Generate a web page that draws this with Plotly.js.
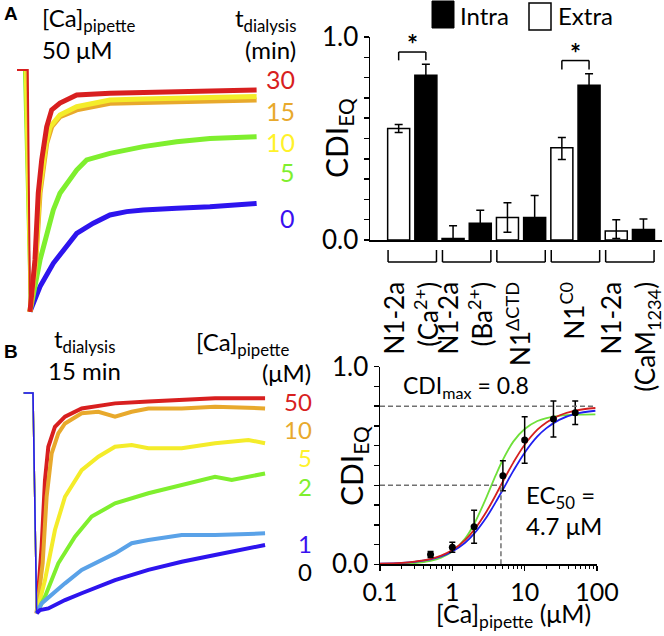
<!DOCTYPE html>
<html><head><meta charset="utf-8">
<script src="https://cdn.plot.ly/plotly-3.0.1.min.js"></script>
<style>html,body{margin:0;padding:0;background:#fff}#chart{width:664px;height:636px}</style>
</head><body><div id="chart"></div>
<script>
// ---------- Panel A traces: [Ca]pipette 50 uM, t in ms, I normalized ----------
const tA30 = [-13, 1, 3.9, 10.4, 14.7, 19.2, 25.7, 32.2, 43.0, 64.8, 108.2, 150, 195.2, 250, 299.5];
const iA30 = [0, 0, -1.0, -0.786, -0.509, -0.372, -0.235, -0.165, -0.137, -0.103, -0.096, -0.093, -0.090, -0.087, -0.083];
const tA15 = [-13, -1, 3.9, 11.7, 17.0, 25.7, 32.2, 43.0, 64.8, 108.2, 150, 195.2, 250, 299.5];
const iA15 = [0, 0, -1.0, -0.786, -0.510, -0.303, -0.235, -0.193, -0.165, -0.138, -0.134, -0.131, -0.128, -0.124];
const tA10 = [-13, -3, 3.9, 11.2, 16.0, 24.8, 30.0, 43.0, 64.8, 108.2, 150, 195.2, 250, 299.5];
const iA10 = [0, 0, -1.0, -0.786, -0.510, -0.303, -0.235, -0.186, -0.152, -0.124, -0.120, -0.117, -0.113, -0.110];
const tA5 = [-13, -4, 3.9, 8.2, 17.0, 34.3, 43.0, 64.8, 77.8, 108.2, 151.7, 195.2, 238.6, 299.5];
const iA5 = [0, 0, -1.0, -0.924, -0.786, -0.579, -0.510, -0.414, -0.372, -0.345, -0.317, -0.297, -0.283, -0.276];
const tA0 = [-13, -1, 3.9, 17.0, 34.3, 47.3, 64.8, 86.5, 108.2, 130, 151.7, 195.2, 238.6, 299.5];
const iA0 = [0, 0, -1.0, -0.896, -0.800, -0.745, -0.676, -0.634, -0.600, -0.586, -0.579, -0.572, -0.566, -0.552];

// ---------- Panel B traces: tdialysis 15 min ----------
const tB50 = [-12, 0, 4.7, 11.1, 15.4, 19.7, 28.2, 41.1, 62.5, 105.3, 148.1, 190.9, 233.7, 297.9];
const iB50 = [0, 0, -1.0, -0.698, -0.395, -0.244, -0.153, -0.107, -0.070, -0.047, -0.039, -0.032, -0.024, -0.024];
const tB10 = [-12, 0, 4.7, 12.4, 17.5, 24.0, 32.5, 41.1, 62.5, 83.9, 105.3, 126.7, 148.1, 190.9, 233.7, 297.9];
const iB10 = [0, 0, -1.0, -0.773, -0.471, -0.274, -0.183, -0.138, -0.092, -0.085, -0.107, -0.085, -0.070, -0.070, -0.062, -0.070];
const tB5 = [-12, 0, 4.7, 15.4, 28.2, 41.1, 62.5, 83.9, 105.3, 126.7, 148.1, 190.9, 233.7, 276.5, 297.9];
const iB5 = [0, 0, -1.0, -0.849, -0.622, -0.471, -0.350, -0.289, -0.244, -0.236, -0.251, -0.251, -0.228, -0.213, -0.228];
const tB2 = [-12, 0, 4.7, 15.4, 32.5, 53.9, 75.3, 105.3, 148.1, 190.9, 212.3, 233.7, 255.1, 276.5, 297.9];
const iB2 = [0, 0, -1.0, -0.925, -0.773, -0.652, -0.561, -0.501, -0.455, -0.418, -0.395, -0.380, -0.395, -0.380, -0.365];
const tB1 = [-12, 0, 4.7, 11.1, 41.1, 62.5, 105.3, 126.7, 148.1, 190.9, 233.7, 276.5, 297.9];
const iB1 = [0, 0, -1.0, -0.955, -0.864, -0.803, -0.728, -0.682, -0.667, -0.645, -0.645, -0.637, -0.637];
const tB0 = [-12, 0, 4.7, 9.0, 19.7, 41.1, 62.5, 105.3, 148.1, 190.9, 233.7, 276.5, 297.9];
const iB0 = [0, 0, -1.0, -0.985, -0.978, -0.940, -0.909, -0.849, -0.803, -0.766, -0.735, -0.705, -0.690];

// ---------- Bar chart ----------
const barCategories = ['N1-2a<br>(Ca<sup>2+</sup>)', 'N1-2a<br>(Ba<sup>2+</sup>)', 'N1<sup>ΔCTD</sup>', 'N1<sup>C0</sup>', 'N1-2a<br>(CaM<sub>1234</sub>)'];
const extraVals  = [0.549, 0.008, 0.111, 0.454, 0.044];
const extraErrUp = [0.020, 0.062, 0.073, 0.051, 0.056];
const extraErrDn = [0.020, 0.008, 0.073, 0.057, 0.036];
const intraVals  = [0.811, 0.082, 0.111, 0.762, 0.052];
const intraErr   = [0.055, 0.064, 0.108, 0.057, 0.051];
const yTickVals = [0, 0.1, 0.2, 0.3, 0.4, 0.5, 0.6, 0.7, 0.8, 0.9, 1.0];
const yTickText = ['0.0', '', '', '', '', '', '', '', '', '', '1.0'];

// ---------- Dose response ----------
const caPipette = [0.5, 1, 2, 5, 10, 25, 50];
const cdiEq     = [0.050, 0.086, 0.190, 0.448, 0.629, 0.735, 0.767];
const cdiErr    = [0.015, 0.025, 0.083, 0.076, 0.118, 0.091, 0.059];
const caFit = [0.1, 0.2, 0.3, 0.5, 0.7, 1, 1.5, 2, 3, 4, 5, 7, 10, 15, 20, 30, 50, 95];
const fitRed   = [0.003, 0.007, 0.013, 0.027, 0.044, 0.072, 0.122, 0.174, 0.270, 0.352, 0.419, 0.516, 0.605, 0.681, 0.718, 0.753, 0.778, 0.791];
const fitBlue  = [0.003, 0.007, 0.012, 0.025, 0.040, 0.065, 0.109, 0.155, 0.241, 0.316, 0.378, 0.474, 0.565, 0.647, 0.689, 0.731, 0.761, 0.777];
const fitGreen = [0.001, 0.003, 0.006, 0.017, 0.033, 0.064, 0.130, 0.204, 0.344, 0.452, 0.529, 0.622, 0.685, 0.725, 0.740, 0.751, 0.757, 0.759];
const cdiMax = 0.8, ec50 = 4.7;
const xLogTicks = [0.1, 1, 10, 100];
const xLogTickText = ['0.1', '1', '10', '100'];
const xLogMinor = [0.2,0.3,0.4,0.5,0.6,0.7,0.8,0.9,2,3,4,5,6,7,8,9,20,30,40,50,60,70,80,90];

// ---------- colours ----------
const C = {red:'#D81F1F', orange:'#E8A92C', yellow:'#F4EC2A', green:'#7FEF2E', blue:'#2D14EE', lblue:'#5AA2E8'};
const FONT = 'Lato, "Open Sans", "DejaVu Sans", sans-serif';

const W = 664, H = 636;
const px = x => x / W, py = y => 1 - y / H;

const data = [];
function addTrace(t, I, color, xa, ya, wThin, wThick) {
  let k = 0; I.forEach((v, j) => { if (v < I[k]) k = j; });
  data.push({x: t.slice(0, k + 1), y: I.slice(0, k + 1), mode: 'lines', line: {color, width: wThin}, xaxis: xa, yaxis: ya, hoverinfo: 'skip', showlegend: false});
  data.push({x: t.slice(k), y: I.slice(k), mode: 'lines', line: {color, width: wThick}, xaxis: xa, yaxis: ya, hoverinfo: 'skip', showlegend: false});
}
addTrace(tA0, iA0, C.blue, 'x', 'y', 2, 5);
addTrace(tA5, iA5, C.green, 'x', 'y', 2, 5);
addTrace(tA15, iA15, C.orange, 'x', 'y', 2, 5);
addTrace(tA10, iA10, C.yellow, 'x', 'y', 2, 5);
addTrace(tA30, iA30, C.red, 'x', 'y', 2, 5);

addTrace(tB50, iB50, C.red, 'x3', 'y3', 1.5, 4);
addTrace(tB10, iB10, C.orange, 'x3', 'y3', 1.5, 4);
addTrace(tB5, iB5, C.yellow, 'x3', 'y3', 1.5, 4);
addTrace(tB2, iB2, C.green, 'x3', 'y3', 1.5, 4);
addTrace(tB1, iB1, C.lblue, 'x3', 'y3', 1.5, 4);
addTrace(tB0, iB0, C.blue, 'x3', 'y3', 1.5, 4);

// bars
data.push({type: 'bar', name: 'Extra', x: barCategories, y: extraVals, xaxis: 'x2', yaxis: 'y2',
  marker: {color: '#fff', line: {color: '#000', width: 1.5}},
  error_y: {type: 'data', symmetric: false, array: extraErrUp, arrayminus: extraErrDn, color: '#000', thickness: 1.5, width: 4},
  showlegend: false, hoverinfo: 'skip'});
data.push({type: 'bar', name: 'Intra', x: barCategories, y: intraVals, xaxis: 'x2', yaxis: 'y2',
  marker: {color: '#000', line: {color: '#000', width: 1.5}},
  error_y: {type: 'data', array: intraErr, color: '#000', thickness: 1.5, width: 4},
  showlegend: false, hoverinfo: 'skip'});

// fits
[[fitGreen, '#6FE03A'], [fitBlue, '#2020F0'], [fitRed, '#D42020']].forEach(([yy, col]) => {
  data.push({x: caFit, y: yy, mode: 'lines', line: {color: col, width: 1.8, shape: 'spline'}, xaxis: 'x4', yaxis: 'y4', hoverinfo: 'skip', showlegend: false});
});
data.push({x: caPipette, y: cdiEq, mode: 'markers', marker: {color: '#000', size: 7},
  error_y: {type: 'data', array: cdiErr, color: '#000', thickness: 1.5, width: 3},
  xaxis: 'x4', yaxis: 'y4', hoverinfo: 'skip', showlegend: false});

// ---------- shapes ----------
const shapes = [];
const blackLine = {color: '#000', width: 1.5};
barCategories.forEach((c, i) => {
  const a = i - 0.445, b = i + 0.445, y0 = py(250), y1 = py(262);
  shapes.push({type: 'line', xref: 'x2', yref: 'paper', x0: a, x1: a, y0: y0, y1: y1, line: blackLine});
  shapes.push({type: 'line', xref: 'x2', yref: 'paper', x0: b, x1: b, y0: y0, y1: y1, line: blackLine});
  shapes.push({type: 'line', xref: 'x2', yref: 'paper', x0: a, x1: b, y0: y1, y1: y1, line: blackLine});
});
// significance brackets
[[0, 0.926, 0.885], [3, 0.884, 0.840]].forEach(([i, top, leg]) => {
  const a = i - 0.25, b = i + 0.25;
  shapes.push({type: 'line', xref: 'x2', yref: 'y2', x0: a, x1: a, y0: leg, y1: top, line: blackLine});
  shapes.push({type: 'line', xref: 'x2', yref: 'y2', x0: b, x1: b, y0: leg, y1: top, line: blackLine});
  shapes.push({type: 'line', xref: 'x2', yref: 'y2', x0: a, x1: b, y0: top, y1: top, line: blackLine});
});
// legend boxes
shapes.push({type: 'rect', xref: 'paper', yref: 'paper', x0: px(432), x1: px(454), y0: py(1), y1: py(28), fillcolor: '#000', line: {color: '#000', width: 1}});
shapes.push({type: 'rect', xref: 'paper', yref: 'paper', x0: px(529), x1: px(551), y0: py(3), y1: py(30), fillcolor: '#fff', line: {color: '#000', width: 1.5}});
// dashed guides
const dash = {color: '#707070', width: 1.5, dash: '5px,3px'};
shapes.push({type: 'line', xref: 'x4 domain', yref: 'y4', x0: 0, x1: 0.985, y0: cdiMax, y1: cdiMax, line: dash});
shapes.push({type: 'line', xref: 'x4', yref: 'y4', x0: 0.1, x1: ec50, y0: cdiMax / 2, y1: cdiMax / 2, line: dash});
shapes.push({type: 'line', xref: 'x4', yref: 'y4', x0: ec50, x1: ec50, y0: 0, y1: cdiMax / 2, line: dash});

// ---------- annotations ----------
const annotations = [];
function ann(text, x, y, xanchor, size, color, extra) {
  annotations.push(Object.assign({text, x: px(x), y: py(y), xref: 'paper', yref: 'paper', xanchor, yanchor: 'middle',
    showarrow: false, font: {family: FONT, size, color: color || '#000'}}, extra || {}));
}
// Panel A
ann('<b>A</b>', 2, 14, 'left', 19, '#000', {font: {family: 'Liberation Sans, Arial, sans-serif', size: 19, color: '#000'}});
ann('[Ca]<sub>pipette</sub>', 40, 20, 'left', 24);
ann('50 μM', 40, 50, 'left', 24);
ann('t<sub>dialysis</sub>', 298, 20, 'right', 24);
ann('(min)', 298, 50, 'right', 24);
ann('30', 297, 79, 'right', 25, C.red);
ann('15', 297, 111, 'right', 25, C.orange);
ann('10', 297, 142, 'right', 25, '#FFF22A');
ann('5', 297, 172, 'right', 25, C.green);
ann('0', 297, 218, 'right', 25, '#3A10F0');
// Legend
ann('Intra', 458, 15, 'left', 24);
ann('Extra', 556, 16, 'left', 24);
// asterisks
annotations.push({text: '<b>*</b>', x: 0, y: 0.965, xref: 'x2', yref: 'y2', showarrow: false, xanchor: 'center', yanchor: 'middle', font: {family: FONT, size: 26, color: '#000'}});
annotations.push({text: '<b>*</b>', x: 3, y: 0.92, xref: 'x2', yref: 'y2', showarrow: false, xanchor: 'center', yanchor: 'middle', font: {family: FONT, size: 26, color: '#000'}});
// y titles (rotated)
annotations.push({text: 'CDI<sub>EQ</sub>', textangle: -90, x: px(338), y: py(138), xref: 'paper', yref: 'paper', xanchor: 'center', yanchor: 'middle', showarrow: false, font: {family: FONT, size: 30, color: '#000'}});
annotations.push({text: 'CDI<sub>EQ</sub>', textangle: -90, x: px(353), y: py(466), xref: 'paper', yref: 'paper', xanchor: 'center', yanchor: 'middle', showarrow: false, font: {family: FONT, size: 30, color: '#000'}});
// Panel B
ann('<b>B</b>', 2, 351, 'left', 19, '#000', {font: {family: 'Liberation Sans, Arial, sans-serif', size: 19, color: '#000'}});
ann('t<sub>dialysis</sub>', 52, 340, 'left', 24);
ann('15 min', 46, 370, 'left', 24);
ann('[Ca]<sub>pipette</sub>', 291, 343, 'right', 24);
ann('(μM)', 313, 372, 'right', 24);
ann('50', 314, 401, 'right', 24, C.red);
ann('10', 314, 429, 'right', 24, C.orange);
ann('5', 314, 457, 'right', 24, '#FFF22A');
ann('2', 314, 486, 'right', 24, C.green);
ann('1', 314, 543, 'right', 24, '#3A10F0');
ann('0', 314, 571, 'right', 24, '#000');
// dose response text
ann('CDI<sub>max</sub> = 0.8', 401, 386, 'left', 23);
ann('EC<sub>50</sub> =', 524, 496, 'left', 24);
ann('4.7 μM', 524, 525, 'left', 24);
ann('[Ca]<sub>pipette</sub> (μM)', 513, 615, 'center', 25);

const hidden = {visible: false, showgrid: false, zeroline: false, fixedrange: true};
const axLine = {showline: true, linecolor: '#000', linewidth: 1.5, showgrid: false, zeroline: false, ticks: 'outside', tickcolor: '#000', tickwidth: 1.5};

const layout = {
  width: W, height: H, margin: {l: 0, r: 0, t: 0, b: 0}, paper_bgcolor: '#fff', plot_bgcolor: 'rgba(0,0,0,0)',
  font: {family: FONT, color: '#000', size: 24}, showlegend: false,
  barmode: 'group', bargap: 0, bargroupgap: 0.19,
  xaxis: Object.assign({}, hidden, {domain: [15.5 / W, 257 / W], range: [-15, 300], anchor: 'y'}),
  yaxis: Object.assign({}, hidden, {domain: [py(316.5), py(55.5)], range: [-1.02, 0.06], anchor: 'x'}),
  xaxis3: Object.assign({}, hidden, {domain: [21.3 / W, 266.7 / W], range: [-15, 300], anchor: 'y3'}),
  yaxis3: Object.assign({}, hidden, {domain: [py(622.1), py(375.4)], range: [-1.04, 0.08], anchor: 'x3'}),
  xaxis2: Object.assign({}, axLine, {domain: [370 / W, 662 / W], anchor: 'y2', type: 'category', range: [-0.777, 4.591],
    ticklen: 30, tickcolor: 'rgba(0,0,0,0)', tickangle: -90, tickfont: {size: 26}}),
  yaxis2: Object.assign({}, axLine, {domain: [py(240), py(37)], anchor: 'x2', range: [0, 1.0], tickvals: yTickVals, ticktext: yTickText, ticklen: 5, tickfont: {size: 26}}),
  xaxis4: Object.assign({}, axLine, {domain: [380 / W, 597 / W], anchor: 'y4', type: 'log', range: [-1, 2],
    tickvals: xLogTicks, ticktext: xLogTickText, ticklen: 5, tickfont: {size: 25},
    minor: {tickvals: xLogMinor, ticks: 'outside', ticklen: 3, tickwidth: 1, tickcolor: '#000'}}),
  yaxis4: Object.assign({}, axLine, {domain: [py(564.3), py(366.7)], anchor: 'x4', range: [0, 1.0], tickvals: yTickVals, ticktext: yTickText, ticklen: 5, tickfont: {size: 26}}),
  shapes, annotations
};
Plotly.newPlot('chart', data, layout, {staticPlot: true, displayModeBar: false}).then(gd => {
  // make sure rotated annotation titles really end up vertical
  gd.querySelectorAll('g.annotation').forEach(a => {
    const opt = layout.annotations[+a.getAttribute('data-index')];
    if (!opt || !opt.textangle) return;
    const r = a.getBoundingClientRect();
    if (r.width > r.height) {
      const bb = a.getBBox();
      a.setAttribute('transform', 'rotate(' + opt.textangle + ',' + (bb.x + bb.width / 2) + ',' + (bb.y + bb.height / 2) + ')');
    }
  });
});
</script></body></html>
